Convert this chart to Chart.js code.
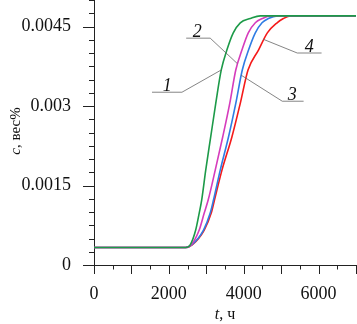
<!DOCTYPE html>
<html>
<head>
<meta charset="utf-8">
<script src="https://cdn.jsdelivr.net/npm/chart.js@4.4.0/dist/chart.umd.min.js"></script>
<style>
html,body{margin:0;padding:0;background:#fff;}
#wrap{width:357px;height:324px;}
</style>
</head>
<body>
<div id="wrap"><canvas id="chart" width="357" height="324"></canvas></div>
<script>
// concentration levels, wt% (shared by all four curves)
const cLevels=[0.00033,0.00033,0.00038,0.00066,0.00098,0.00123,0.00179,0.00242,0.00305,0.00368,0.00406,0.00438,0.00457,0.00465,0.0047,0.0047];
// time at which each curve reaches those levels, h
const t1=[0,2450,2570,2717,2811,2878,2985,3119,3253,3400,3552,3721,3908,4176,4444,7000];
const t2=[0,2450,2597,2811,2945,3052,3239,3440,3627,3788,3954,4122,4310,4497,4711,7000];
const t3=[0,2450,2610,2926,3105,3194,3373,3595,3788,3962,4131,4310,4489,4658,4899,7000];
const t4=[0,2450,2623,2945,3132,3220,3419,3686,3908,4115,4398,4631,4891,5060,5247,7000];

const xLabels=[0,2000,4000,6000];
const yLabels=[0,0.0015,0.003,0.0045];
const yLabelText=['0','0.0015','0.003','0.0045'];

// curve labels: text, text pos, underline span, leader end (data units)
const curveTags=[
  {txt:'1',tx:1954,cy:0.00326,u0:1550,u1:2350,ex:3400,ey:0.00368},
  {txt:'2',tx:2757,cy:0.00428,u0:2463,u1:3105,ex:3830,ey:0.0038},
  {txt:'3',tx:5300,cy:0.00309,u0:5030,u1:5600,ex:3935,ey:0.00358},
  {txt:'4',tx:5750,cy:0.0040,u0:5430,u1:6080,ex:4520,ey:0.00426}
];

const pts=(t,c)=>t.map((v,i)=>({x:v,y:c[i]}));
const SERIF='"Liberation Serif","DejaVu Serif",serif';

const ds=(label,data,color)=>({label,data,borderColor:color,borderWidth:1.6,pointRadius:0,
  showLine:true,fill:false,cubicInterpolationMode:'monotone'});

const decor={
  id:'decor',
  afterDraw(chart){
    const ctx=chart.ctx, xs=chart.scales.x, ys=chart.scales.y, a=chart.chartArea;
    ctx.save();
    ctx.strokeStyle='#222'; ctx.lineWidth=1;
    xs.ticks.forEach(tk=>{
      const px=Math.round(xs.getPixelForValue(tk.value))+0.5;
      const len=tk.value%1000===0?9:4.5;
      ctx.beginPath(); ctx.moveTo(px,a.bottom); ctx.lineTo(px,a.bottom+len); ctx.stroke();
    });
    ys.ticks.forEach(tk=>{
      const py=Math.round(ys.getPixelForValue(tk.value))+0.5;
      const len=Math.round(tk.value/0.00025)%6===0?11:5;
      ctx.beginPath(); ctx.moveTo(a.left,py); ctx.lineTo(a.left-len,py); ctx.stroke();
    });
    // curve tags
    ctx.strokeStyle='#666'; ctx.lineWidth=0.8;
    ctx.fillStyle='#111'; ctx.font='italic 18px '+SERIF; ctx.textAlign='center'; ctx.textBaseline='alphabetic';
    curveTags.forEach(g=>{
      const uy=ys.getPixelForValue(g.cy);
      const x0=xs.getPixelForValue(g.u0), x1=xs.getPixelForValue(g.u1);
      const ex=xs.getPixelForValue(g.ex);
      const near=Math.abs(ex-x0)<Math.abs(ex-x1)?x0:x1;
      ctx.beginPath(); ctx.moveTo(x0,uy); ctx.lineTo(x1,uy);
      ctx.moveTo(near,uy); ctx.lineTo(ex,ys.getPixelForValue(g.ey)); ctx.stroke();
      ctx.fillText(g.txt,xs.getPixelForValue(g.tx),uy-1);
    });
    // axis titles
    ctx.textAlign='left';
    ctx.font='italic 16px '+SERIF;
    const tW=ctx.measureText('t').width;
    ctx.font='16px '+SERIF;
    const rW=ctx.measureText(', ч').width;
    let sx=225-(tW+rW)/2;
    ctx.font='italic 16px '+SERIF; ctx.fillText('t',sx,319);
    ctx.font='16px '+SERIF; ctx.fillText(', ч',sx+tW,319);
    ctx.translate(20,131); ctx.rotate(-Math.PI/2);
    ctx.font='italic 15px '+SERIF;
    const cW=ctx.measureText('c').width;
    ctx.font='15px '+SERIF;
    const r2=ctx.measureText(', вес%').width;
    sx=-(cW+r2)/2;
    ctx.font='italic 15px '+SERIF; ctx.fillText('c',sx,0);
    ctx.font='15px '+SERIF; ctx.fillText(', вес%',sx+cW,0);
    ctx.restore();
  }
};

new Chart(document.getElementById('chart'),{
  type:'scatter',
  data:{datasets:[
    ds('1',pts(t1,cLevels),'#1c9a48'),
    ds('2',pts(t2,cLevels),'#d63cbc'),
    ds('3',pts(t3,cLevels),'#2f7ce4'),
    ds('4',pts(t4,cLevels),'#f51a1a')
  ]},
  options:{
    responsive:false, animation:false, devicePixelRatio:1,
    layout:{padding:{left:0,right:1,top:0,bottom:0}},
    plugins:{legend:{display:false},tooltip:{enabled:false}},
    scales:{
      x:{type:'linear',min:0,max:7000,
        grid:{display:false},
        border:{display:true,color:'#222',width:1},
        ticks:{stepSize:500,autoSkip:false,maxRotation:0,padding:10,color:'#111',
          font:{family:SERIF,size:18},
          callback:v=>xLabels.includes(v)?String(v):''},
        afterFit:s=>{s.height=59;s.paddingLeft=0;s.paddingRight=0;}
      },
      y:{type:'linear',min:0,max:0.005,
        grid:{display:false},
        border:{display:true,color:'#222',width:1},
        ticks:{stepSize:0.00025,autoSkip:false,padding:15,color:'#111',
          font:{family:SERIF,size:18},
          callback:v=>{const i=yLabels.findIndex(q=>Math.abs(q-v)<1e-9);return i<0?'':yLabelText[i];}},
        afterFit:s=>{s.width=94;s.paddingTop=0;s.paddingBottom=0;}
      }
    }
  },
  plugins:[decor]
});
</script>
</body>
</html>
